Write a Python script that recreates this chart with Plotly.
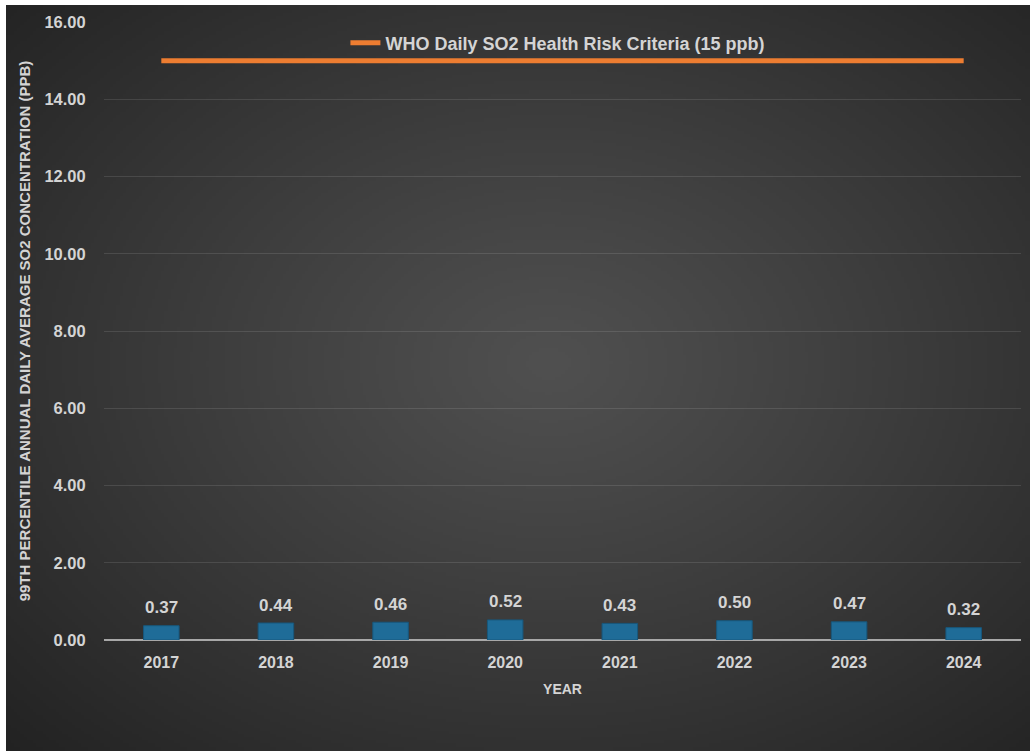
import base64
import struct
import zlib

import numpy as np
import plotly.graph_objects as go

# ---- data -------------------------------------------------------------
years = ["2017", "2018", "2019", "2020", "2021", "2022", "2023", "2024"]
so2_p99 = [0.37, 0.44, 0.46, 0.52, 0.43, 0.50, 0.47, 0.32]
who_limit = [15, 15, 15, 15, 15, 15, 15, 15]
y_ticks = [0, 2, 4, 6, 8, 10, 12, 14, 16]

LABEL_GREY = "#d4d4d4"
FONT = "Liberation Sans"


# ---- dark radial-gradient backdrop rendered as a small PNG -----------
def gradient_png(w=320, h=240, center=(0.53, 0.48), inner=80, outer=34):
    yy, xx = np.mgrid[0:h, 0:w]
    dx = (xx / (w - 1) - center[0]) / 0.75
    dy = (yy / (h - 1) - center[1]) / 0.75
    r = np.clip(np.sqrt(dx * dx + dy * dy), 0, 1)
    v = inner + (outer - inner) * r ** 1.1
    img = np.repeat(v[:, :, None], 3, axis=2).astype(np.uint8)
    raw = b"".join(b"\x00" + img[row].tobytes() for row in range(h))

    def chunk(tag, data):
        c = struct.pack(">I", len(data)) + tag + data
        return c + struct.pack(">I", zlib.crc32(tag + data) & 0xFFFFFFFF)

    png = b"\x89PNG\r\n\x1a\n"
    png += chunk(b"IHDR", struct.pack(">IIBBBBB", w, h, 8, 2, 0, 0, 0))
    png += chunk(b"IDAT", zlib.compress(raw, 9))
    png += chunk(b"IEND", b"")
    return "data:image/png;base64," + base64.b64encode(png).decode()


fig = go.Figure()

fig.add_trace(
    go.Bar(
        x=years,
        y=so2_p99,
        width=0.31,
        marker=dict(color="#1f6c98", line=dict(color="#17577c", width=1)),
        showlegend=False,
        hoverinfo="x+y",
    )
)

fig.add_trace(
    go.Scatter(
        x=years,
        y=who_limit,
        mode="lines",
        name="WHO Daily SO2 Health Risk Criteria (15 ppb)",
        line=dict(color="#ed7d31", width=5),
    )
)

# value labels above each bar (x given as the category index)
for i, val in enumerate(so2_p99):
    fig.add_annotation(
        x=i,
        y=val,
        text=f"{val:.2f}",
        showarrow=False,
        yanchor="middle",
        yshift=18,
        font=dict(family=FONT, size=17, color=LABEL_GREY, weight="bold"),
    )

# plot area spans x 104..1021, y 22..640 of the 1030x751 page
L, R, T, B = 104, 9, 22, 111
pw, ph = 1030 - L - R, 751 - T - B
plot_bottom = 751 - B
bg_x0 = (6 - L) / pw
bg_x1 = (1030 - L) / pw
bg_top = (plot_bottom - 5) / ph
bg_bot = (plot_bottom - 751) / ph

fig.add_layout_image(
    dict(
        source=gradient_png(),
        xref="paper",
        yref="paper",
        x=bg_x0,
        y=bg_top,
        sizex=bg_x1 - bg_x0,
        sizey=bg_top - bg_bot,
        xanchor="left",
        yanchor="top",
        sizing="stretch",
        layer="below",
    )
)

fig.update_layout(
    width=1030,
    height=751,
    margin=dict(l=L, r=R, t=T, b=B),
    paper_bgcolor="white",
    plot_bgcolor="rgba(0,0,0,0)",
    font=dict(family=FONT, color=LABEL_GREY),
    legend=dict(
        orientation="h",
        x=0.495,
        y=0.966,
        xanchor="center",
        yanchor="middle",
        bgcolor="rgba(0,0,0,0)",
        font=dict(family=FONT, size=18, color=LABEL_GREY, weight="bold"),
        itemwidth=30,
    ),
    xaxis=dict(
        type="category",
        range=[-0.5, len(years) - 0.5],
        showgrid=False,
        showline=False,
        ticks="outside",
        ticklen=8,
        tickcolor="rgba(0,0,0,0)",
        tickfont=dict(family=FONT, size=16, color=LABEL_GREY, weight="bold"),
        title=dict(
            text="YEAR",
            font=dict(family=FONT, size=14, color=LABEL_GREY, weight="bold"),
            standoff=13,
        ),
    ),
    yaxis=dict(
        range=[0, 16],
        tickvals=y_ticks,
        ticktext=[f"{t:.2f}" for t in y_ticks],
        showgrid=True,
        gridcolor="rgba(255,255,255,0.11)",
        gridwidth=1.2,
        zeroline=True,
        zerolinecolor="#a8a8a8",
        zerolinewidth=2,
        showline=False,
        ticks="outside",
        ticklen=14,
        tickcolor="rgba(0,0,0,0)",
        tickfont=dict(family=FONT, size=16.5, color=LABEL_GREY, weight="bold"),
        title=dict(
            text="99TH PERCENTILE ANNUAL DAILY AVERAGE SO2 CONCENTRATION (PPB)",
            font=dict(family=FONT, size=15, color=LABEL_GREY, weight="bold"),
            standoff=10,
        ),
    ),
)

fig.write_html("out.html")
